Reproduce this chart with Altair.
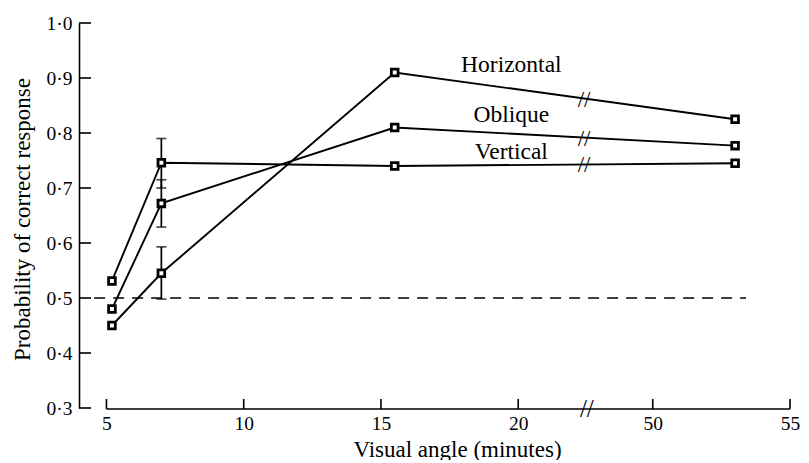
import altair as alt
import pandas as pd

# ---- data ----
angles = [5.2, 7.0, 15.5, 53.0]                 # visual angle (minutes)
horizontal = [0.450, 0.545, 0.910, 0.825]
oblique = [0.480, 0.672, 0.810, 0.777]
vertical = [0.531, 0.746, 0.740, 0.745]
series_names = ["Horizontal", "Oblique", "Vertical"]

err_angle = 7.0
err_low = [0.498, 0.629, 0.700]
err_high = [0.593, 0.715, 0.790]

x_ticks = [5, 10, 15, 20, 50, 55]
y_ticks = [0.3, 0.4, 0.5, 0.6, 0.7, 0.8, 0.9, 1.0]
chance_level = 0.5

label_angle = 19.75
label_prob = [0.924, 0.833, 0.765]

# ---- broken x axis: values beyond the break are shifted left ----
BREAK_AT = 22.45
SHIFT = 25.1


def pos(a):
    return a if a < BREAK_AT else a - SHIFT


W, H = 711, 385
FONT = "Liberation Serif"

rows = []
for name, vals in zip(series_names, [horizontal, oblique, vertical]):
    for a, v in zip(angles, vals):
        rows.append({"series": name, "pos": pos(a), "p": v})
df = pd.DataFrame(rows)

err_df = pd.DataFrame({"series": series_names, "pos": [pos(err_angle)] * 3,
                       "lo": err_low, "hi": err_high})
lab_df = pd.DataFrame({"series": series_names, "pos": [label_angle] * 3, "p": label_prob})

# break marks on each line, located on the segment that crosses the break
brk_rows = []
for name, vals in zip(series_names, [horizontal, oblique, vertical]):
    x0, x1 = pos(angles[2]), pos(angles[3])
    t = (BREAK_AT - 0.05 - x0) / (x1 - x0)
    brk_rows.append({"pos": BREAK_AT - 0.05, "p": vals[2] + t * (vals[3] - vals[2])})
brk_df = pd.DataFrame(brk_rows)

xscale = alt.Scale(domain=[4, 29.9], nice=False, zero=False)
yscale = alt.Scale(domain=[0.3, 1.0], nice=False, zero=False)

x_tick_pos = [pos(v) for v in x_ticks]

x_axis = alt.Axis(values=x_tick_pos, ticks=False, domain=False, grid=False,
                  labelExpr="datum.value > 22 ? format(datum.value + 25.1, '.0f') : format(datum.value, '.0f')",
                  labelPadding=6, title="Visual angle (minutes)",
                  titleX=378, titleY=48, titleBaseline="alphabetic", titleAlign="center",
                  labelFlush=False, labelOverlap=False)
y_axis = alt.Axis(values=y_ticks, ticks=False, domain=True, grid=False,
                  labelExpr="replace(format(datum.value, '.1f'), '.', '·')",
                  labelPadding=7, title="Probability of correct response",
                  titleX=-50, titleY=196, titleAngle=270, titleBaseline="alphabetic",
                  titleAlign="center", labelFlush=False, labelOverlap=False)


def X(field):
    return alt.X(field, scale=xscale, axis=x_axis)


def Y(field):
    return alt.Y(field, scale=yscale, axis=y_axis)


base = alt.Chart(df)

chance = alt.Chart(pd.DataFrame({"p": [chance_level], "x0": [4.55], "x1": [28.3]})).mark_rule(
    color="black", strokeWidth=1.5, strokeDash=[11, 8]
).encode(x=X("x0:Q"), x2="x1:Q", y=Y("p:Q"))

lines = base.mark_line(color="black", strokeWidth=1.9).encode(
    x=X("pos:Q"), y=Y("p:Q"), detail="series:N", order="pos:Q")

ebar = alt.Chart(err_df).mark_rule(color="black", strokeWidth=1.7).encode(
    x=X("pos:Q"), y=Y("lo:Q"), y2="hi:Q")
cap_lo = alt.Chart(err_df).mark_tick(orient="horizontal", size=10, thickness=1.7, color="black").encode(
    x=X("pos:Q"), y=Y("lo:Q"))
cap_hi = alt.Chart(err_df).mark_tick(orient="horizontal", size=10, thickness=1.7, color="black").encode(
    x=X("pos:Q"), y=Y("hi:Q"))

points = base.mark_point(shape="square", filled=True, fill="white", stroke="black",
                         strokeWidth=2.8, size=45, opacity=1).encode(x=X("pos:Q"), y=Y("p:Q"))

labels = alt.Chart(lab_df).mark_text(font=FONT, fontSize=23.5, color="black",
                                     align="center", baseline="middle").encode(
    x=X("pos:Q"), y=Y("p:Q"), text="series:N")

breaks = alt.Chart(brk_df).mark_text(font=FONT, fontSize=23, color="black", text="//",
                                     align="center", baseline="middle", dy=1).encode(
    x=X("pos:Q"), y=Y("p:Q"))

axis_break = alt.Chart(pd.DataFrame({"pos": [BREAK_AT + 0.05], "p": [0.3]})).mark_text(
    font=FONT, fontSize=25, color="black", text="//", align="center", baseline="middle", dy=1).encode(
    x=X("pos:Q"), y=Y("p:Q"))

x_line = alt.Chart(pd.DataFrame({"a": [x_tick_pos[0]], "b": [x_tick_pos[-1]]})).mark_rule(
    color="black", strokeWidth=1.6).encode(x=X("a:Q"), x2="b:Q", y=alt.value(H + 1))

x_tk = alt.Chart(pd.DataFrame({"pos": x_tick_pos})).mark_rule(color="black", strokeWidth=1.6).encode(
    x=X("pos:Q"), y=alt.value(H + 1), y2=alt.value(H - 9))

y_tk = alt.Chart(pd.DataFrame({"p": y_ticks})).mark_rule(color="black", strokeWidth=1.6).encode(
    y=Y("p:Q"), x=alt.value(0), x2=alt.value(12))

chart = alt.layer(lines, chance, ebar, cap_lo, cap_hi, points, labels, breaks,
                  axis_break, x_line, x_tk, y_tk).properties(
    width=W, height=H,
    autosize=alt.AutoSizeParams(type="none"),
    padding={"left": 71, "top": 15, "right": 11, "bottom": 52},
    background="white",
).configure_view(stroke=None).configure_axis(
    labelFont=FONT, titleFont=FONT, labelFontSize=19.5, titleFontSize=23,
    labelColor="black", titleColor="black", titleFontWeight="normal",
    domainColor="black", domainWidth=1.6,
)

chart.save("out.html", embed_options={"renderer": "svg", "actions": False})
